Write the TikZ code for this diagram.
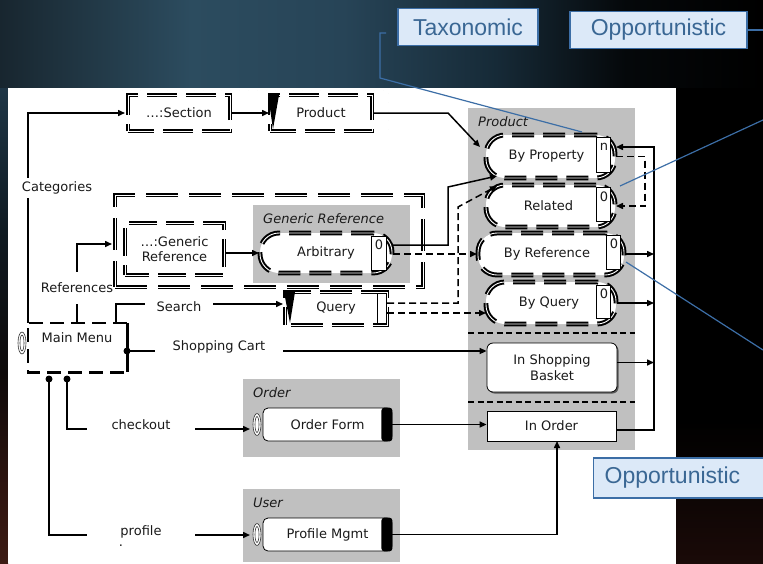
\documentclass[tikz,border=0pt]{standalone}
\usepackage{fontspec}
\setmainfont{DejaVu Sans}
\newfontfamily\calloutfont{Liberation Sans}
\usetikzlibrary{arrows.meta,shadows}

\definecolor{grp}{HTML}{C0C0C0}
\definecolor{ink}{HTML}{1A1A1A}
\definecolor{callfill}{HTML}{DCE9F8}
\definecolor{callline}{HTML}{3C6EA6}
\definecolor{calltext}{HTML}{3A6794}
\definecolor{skyA}{HTML}{18262F}
\definecolor{skyB}{HTML}{2C4C5F}
\definecolor{skyC}{HTML}{274457}
\definecolor{skyD}{HTML}{162A37}
\definecolor{skyE}{HTML}{05080A}
\definecolor{stripA}{HTML}{3C1B14}
\definecolor{stripB}{HTML}{2E140F}
\definecolor{stripC}{HTML}{0E0A0A}
\definecolor{stripD}{HTML}{0F1A22}
\definecolor{stripE}{HTML}{1F3646}
\definecolor{sideA}{HTML}{1A0A08}

\pgfdeclarehorizontalshading{skyband}{100bp}{color(0bp)=(skyA); color(25bp)=(skyA); color(37.5bp)=(skyB); color(47.5bp)=(skyC); color(57.5bp)=(skyD); color(66bp)=(skyE); color(75bp)=(black); color(100bp)=(black)}
\pgfdeclareverticalshading{leftstrip}{100bp}{color(0bp)=(stripA); color(25bp)=(stripA); color(33bp)=(stripB); color(45bp)=(stripC); color(60bp)=(stripD); color(75bp)=(stripE); color(100bp)=(stripE)}
\pgfdeclareverticalshading{sidedark}{100bp}{color(0bp)=(sideA); color(25bp)=(sideA); color(40bp)=(black); color(100bp)=(black)}

\newcommand\dfont{\fontsize{13}{15.5}\selectfont}

\begin{document}
\begin{tikzpicture}[x=1pt,y=-1pt,
  every node/.style={font=\dfont, text=ink, inner sep=0pt},
  conn/.style={draw=black, line width=1.5pt},
  arr/.style={conn, -{Triangle[length=7pt,width=6pt]}},
  dconn/.style={conn, dash pattern=on 7pt off 4pt},
  darr/.style={dconn, -{Triangle[length=7pt,width=6pt]}},
  grpbox/.style={fill=grp, draw=none, rectangle},
  grplabel/.style={font=\dfont\itshape, anchor=west},
  dblbox/.style={draw=black, line width=2pt, double=white, double distance=0.9pt, fill=white},
  stadium/.style={dblbox, rounded corners=19pt, dash pattern=on 22pt off 9pt},
  flagbox/.style={draw=black, line width=0.7pt, fill=white},
  plainbox/.style={draw=black, line width=0.8pt, fill=white},
  formbox/.style={plainbox, rounded corners=5pt},
  clipicon/.style={draw=black!80, line width=0.6pt, fill=white},
  wedge/.style={fill=black},
  dot/.style={fill=black},
  sepline/.style={draw=black, line width=1.4pt, dash pattern=on 6pt off 3.5pt},
  mmdash/.style={draw=black, line width=2.6pt, dash pattern=on 14pt off 7pt},
  callout/.style={draw=callline, line width=1.3pt, fill=callfill, text=calltext,
    font=\calloutfont\fontsize{23}{27}\selectfont},
  cline/.style={draw=callline, line width=1.2pt},
]
\useasboundingbox (0,0) rectangle (763,563);

% backdrop and white sheet
\fill[black] (0,0) rectangle (763,563);
\shade[shading=skyband] (0,0) rectangle (763,88);
\shade[shading=leftstrip] (0,88) rectangle (8,563);
\shade[shading=sidedark] (676,88) rectangle (763,563);
\fill[white] (8,88) rectangle (676,563);

% ---------- grey groups ----------
\node[grpbox, minimum width=167, minimum height=342] (gprod) at (551.5,279) {};
\node[grplabel] (gprodlbl) at (478,122) {Product};
\node[grpbox, minimum width=157, minimum height=78] (gord) at (321.5,418) {};
\node[grplabel] (gordlbl) at (253,393) {Order};
\node[grpbox, minimum width=157, minimum height=73] (gusr) at (321.5,525.5) {};
\node[grplabel] (gusrlbl) at (253,503) {User};

% ---------- categories: section / product ----------
\node[draw=black, line width=0.6pt, double=white, double distance=1.2pt,
      dash pattern=on 6pt off 3pt, minimum width=272, minimum height=46] (frame) at (253,113) {};
\node[dblbox, dash pattern=on 30pt off 9pt, dash phase=4pt,
      minimum width=102, minimum height=36] (sect) at (179,113) {…:Section};
\node[dblbox, dash pattern=on 30pt off 9pt, dash phase=4pt,
      minimum width=102, minimum height=36] (prod) at (321,113) {Product};
\fill[wedge] (268,95) -- (279,95) -- (273,129) -- cycle;

% ---------- generic reference ----------
\node[dblbox, fill=none, dash pattern=on 32pt off 11pt,
      minimum width=308, minimum height=92] (gout) at (269,241) {};
\node[grpbox, minimum width=157, minimum height=78] (ggen) at (331.5,244) {};
\node[grplabel] (ggenlbl) at (263,219) {Generic Reference};
\node[dblbox, dash pattern=on 28pt off 9pt, dash phase=4pt, align=center,
      minimum width=99, minimum height=52] (genref) at (174.5,249) {…:Generic\\Reference};
\node[stadium, minimum width=132, minimum height=40] (arb) at (326,253) {Arbitrary};
\node[flagbox, minimum width=15, minimum height=34] (arbn) at (378.5,253) {};
\node (arbnl) at (379,245) {0};

% ---------- query ----------
\node[dblbox, dash pattern=on 32pt off 9pt, dash phase=-6pt,
      minimum width=102, minimum height=33] (qry) at (336,308.5) {\raisebox{-2pt}{Query}};
\node[flagbox, minimum width=9, minimum height=30] (qryn) at (381.5,308) {};
\fill[wedge] (284,292) -- (295,292) -- (290,323) -- cycle;

% ---------- product stack ----------
\node[stadium, minimum width=129, minimum height=43] (byprop) at (550.5,156.5) {By Property\hspace*{8pt}};
\node[flagbox, minimum width=14, minimum height=35] (bypropn) at (603,154.5) {};
\node (bypropnl) at (604,147) {n};
\node[stadium, minimum width=129, minimum height=42] (related) at (550.5,206) {Related\hspace*{4pt}};
\node[flagbox, minimum width=14, minimum height=34] (relatedn) at (603,204) {};
\node (relatednl) at (604,197) {0};
\node[stadium, minimum width=146, minimum height=42] (byref) at (551,254) {By Reference\hspace*{8pt}};
\node[flagbox, minimum width=14, minimum height=34] (byrefn) at (613,252) {};
\node (byrefnl) at (614,244) {0};
\node[stadium, minimum width=130, minimum height=42] (byquery) at (551,303) {By Query\hspace*{4pt}};
\node[flagbox, minimum width=14, minimum height=33] (byqueryn) at (603,301.5) {};
\node (byquerynl) at (604,294) {0};

\coordinate (sepA) at (468,333);
\coordinate (sepB) at (468,402);
\draw[sepline] (sepA) -- (sepA -| gprod.east);
\draw[sepline] (sepB) -- (sepB -| gprod.east);

\node[plainbox, rounded corners=6pt, align=center, minimum width=130, minimum height=49,
      drop shadow={shadow xshift=1.5pt, shadow yshift=-1.5pt, fill=black!65, opacity=1}]
      (basket) at (552,367.5) {In Shopping\\Basket};
\node[plainbox, minimum width=129, minimum height=30,
      drop shadow={shadow xshift=1pt, shadow yshift=-1pt, fill=black!55, opacity=1}]
      (inorder) at (551.5,426) {In Order};

% ---------- order / user pages ----------
\node[formbox, minimum width=129, minimum height=33] (oform) at (327.5,424.5) {Order Form};
\fill[rounded corners=3pt] ([xshift=-11pt]oform.north east) rectangle (oform.south east);
\node[formbox, minimum width=129, minimum height=33] (pmgmt) at (327.5,534.5) {Profile Mgmt};
\fill[rounded corners=3pt] ([xshift=-11pt]pmgmt.north east) rectangle (pmgmt.south east);
\draw[clipicon] (257,424.5) ellipse [x radius=4, y radius=11];
\draw[clipicon, fill=none] (257,424.5) ellipse [x radius=2, y radius=8];
\draw[clipicon] (257,534.5) ellipse [x radius=4, y radius=11];
\draw[clipicon, fill=none] (257,534.5) ellipse [x radius=2, y radius=8];

% ---------- main menu ----------
\node[minimum width=99, minimum height=49] (mm) at (77.5,347.5) {};
\draw[mmdash] (mm.north east) -- (mm.north west) -- (mm.south west) -- (mm.south east);
\draw[line width=2.6pt] (mm.north east) -- (mm.south east);
\node (mmlbl) at (77,338) {Main Menu};
\draw[clipicon] (22,343) ellipse [x radius=4, y radius=11];
\draw[clipicon, fill=none] (22,343) ellipse [x radius=2, y radius=8];

% ---------- link labels ----------
\node[minimum height=20] (cat) at (57,188) {Categories};
\node[minimum height=32] (refs) at (77,288) {References};
\node[minimum width=68] (srch) at (179,307) {Search};
\node[minimum width=128] (cart) at (219,346.5) {Shopping Cart};
\node[minimum width=108] (chk) at (141,425) {checkout};
\node[minimum width=108] (prof) at (141,532) {profile};
\node (profdot) at (121,546) {.};

% ---------- connector anchors ----------
\coordinate (catIn) at (125,113);
\coordinate (refIn) at (112,244);
\coordinate (bendA) at (448,113);
\coordinate (bpIn1) at (480,147);
\coordinate (bendB) at (448,187);
\coordinate (bpIn2) at (497,176);
\coordinate (arbOut) at (392,245);
\coordinate (qOutA) at (387,303);
\coordinate (bendC) at (458,207);
\coordinate (relIn) at (497,186);
\coordinate (qOutB) at (387,313);
\coordinate (bqIn) at (486,313);
\coordinate (srchOut) at (116,323);
\coordinate (qryIn) at (283,304);
\coordinate (mmDot) at (127,351);
\coordinate (dotChk) at (67,379);
\coordinate (dotProf) at (49,379);
\coordinate (chkIn) at (250,429);
\coordinate (profIn) at (250,535);
\coordinate (railTop) at (654,147);
\coordinate (railBot) at (654,430);
\coordinate (loopX) at (645,180);
\coordinate (ioBot) at (557,441);

% ---------- connectors ----------
\draw[conn] (mm.north west) -- (mm.north west |- cat.south);
\draw[arr] (mm.north west |- cat.north) |- (catIn);
\draw[arr] (sect.east) -- (prod.west);
\draw[arr] (prod.east) -- (bendA) -- (bpIn1);
\draw[arr] (refs.north) |- (refIn);
\draw[conn] (refs.south) -- (refs.south |- mm.north);
\draw[arr] (genref.east |- arb.west) -- (arb.west);
\draw[arr] (arbOut) -| (bendB) -- (bpIn2);
\draw[darr] (arb.east |- byref.west) -- (byref.west);
\draw[darr] (qOutA) -| (bendC) -- (relIn);
\draw[darr] (qOutB) -- (bqIn);
\draw[conn] (srchOut) |- (srch.west |- qryIn);
\draw[arr] (srch.east |- qryIn) -- (qryIn);
\fill[dot] (mmDot) circle (3.5);
\draw[conn] (mmDot) -- (cart.west |- mmDot);
\draw[arr] (cart.east |- mmDot) -- (basket.west |- mmDot);
\fill[dot] (dotChk) circle (3.5);
\fill[dot] (dotProf) circle (3.5);
\draw[conn] (dotChk) |- (chk.west |- chkIn);
\draw[arr] (chk.east |- chkIn) -- (chkIn);
\draw[conn] (dotProf) |- (prof.west |- profIn);
\draw[arr] (prof.east |- profIn) -- (profIn);
\draw[arr] (oform.east) -- (oform.east -| inorder.west);
\draw[arr] (pmgmt.east) -| (ioBot);
\draw[arr] (inorder.east |- railBot) -- (railBot) -- (railTop) -- (byprop.east |- railTop);
\draw[arr] (byref.east) -- (byref.east -| railTop);
\draw[arr] (byquery.east) -- (byquery.east -| railTop);
\draw[arr] ([yshift=5pt]basket.east) -- ([yshift=5pt]basket.east -| railTop);
\draw[darr] (byprop.east) -- (byprop.east -| loopX) |- (related.east);

% ---------- annotation callouts ----------
\node[callout, minimum width=140, minimum height=37] (tax) at (468,27) {Taxonomic};
\node[callout, minimum width=177, minimum height=37] (opp1) at (658.5,30) {Opportunistic};
\node[callout, anchor=west, inner xsep=11pt, text width=170pt, align=left,
      minimum height=40] (opp2) at (593,478) {Opportunistic};

\coordinate (taxTick) at (386,33);
\coordinate (taxElbow) at (380,78);
\coordinate (taxEnd) at (582,132);
\coordinate (oppEdge) at (763,30);
\coordinate (oppInA) at (763,120);
\coordinate (relTip) at (620,186);
\coordinate (refTip) at (626,262);
\coordinate (oppInB) at (763,350);
\draw[cline] (taxTick) -- (taxTick -| taxElbow) -- (taxElbow) -- (taxEnd);
\draw[cline] (opp1.east) -- (oppEdge);
\draw[cline] (oppInA) -- (relTip);
\draw[cline] (refTip) -- (oppInB);
\end{tikzpicture}
\end{document}
